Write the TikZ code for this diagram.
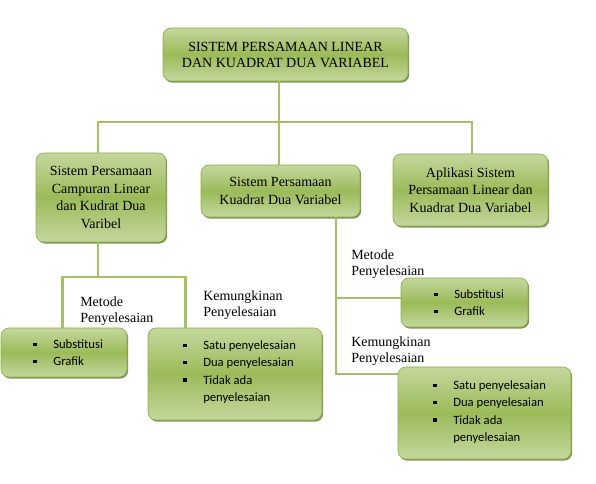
\documentclass[tikz,border=0pt]{standalone}
\usepackage{fontspec}
\setmainfont{Liberation Serif}
\newfontfamily\calfont{Carlito}
\usetikzlibrary{shadows}
\definecolor{olivelight}{HTML}{C4D79E}
\definecolor{olivemid}{HTML}{9BBB59}
\definecolor{oliveedge}{HTML}{8DAD50}
\definecolor{oliveshade}{HTML}{6F8A3C}
\definecolor{linkgreen}{HTML}{A3C065}
\newcommand{\bul}{\makebox[15pt][l]{\rule[1.8pt]{2.5pt}{2.5pt}}}
\tikzset{
  box/.style 2 args={draw=oliveedge, line width=0.5pt, rounded corners=6pt,
    top color=olivelight, bottom color=olivelight, middle color=olivemid,
    drop shadow={shadow xshift=0.9pt, shadow yshift=-1.2pt, fill=oliveshade, opacity=0.9},
    minimum width=#1*0.75pt, minimum height=#2*0.75pt, inner sep=0pt,
    align=center, font=\fontsize{10.5}{13.3}\selectfont},
  link/.style={draw=linkgreen, line width=2.2pt},
  lbl/.style={anchor=north west, inner sep=0pt, align=left, font=\fontsize{10.5}{12}\selectfont},
  lst/.style={anchor=north west, inner sep=0pt, align=left, font=\calfont\fontsize{9.5}{13}\selectfont}
}
\begin{document}
\begin{tikzpicture}[x=0.75pt, y=-0.75pt]
\useasboundingbox (0,0) rectangle (596,484);
\node[box={245}{53}, font=\fontsize{10.5}{12}\selectfont] (sped) at (285.5,54.5) {SISTEM PERSAMAAN LINEAR\\DAN KUADRAT DUA VARIABEL};
\node[box={130}{89}] (spc) at (101,197.5) {Sistem Persamaan\\Campuran Linear\\dan Kudrat Dua\\Varibel};
\node[box={159}{52}] (skd) at (280.5,191) {Sistem Persamaan\\Kuadrat Dua Variabel};
\node[box={155}{72}] (apl) at (470.5,190) {Aplikasi Sistem\\Persamaan Linear dan\\Kuadrat Dua Variabel};
\node[box={126}{49}] (lmet) at (64,352.5) {};
\node[box={174}{92}] (lkem) at (235,374) {};
\node[box={127}{49}] (rmet) at (464.5,302.5) {};
\node[box={173}{92}] (rkem) at (484.5,413) {};
\coordinate (jt) at (279,122);
\coordinate (jl) at (98,277);
\coordinate (jm) at (336,298);
\coordinate (jk) at (336,374);
\draw[link] (jt |- sped.south) -- (jt |- skd.north);
\draw[link] ([xshift=-2.25pt]spc.north) |- (jt) -| ([xshift=1.1pt]apl.north);
\draw[link] (jl |- spc.south) -- (jl);
\draw[link] ([xshift=-1.1pt]lmet.north) |- (jl) -| ([xshift=28.5pt]lkem.north west);
\draw[link] (jm |- skd.south) -- (jk) -- (jk -| rkem.west);
\draw[link] (jm) -- (jm -| rmet.west);
\node[lbl] (lmetlbl) at (80,294.8) {\strut Metode\\\strut Penyelesaian};
\node[lbl] (lkemlbl) at (203,288.8) {\strut Kemungkinan\\\strut Penyelesaian};
\node[lbl] (rmetlbl) at (351,247.8) {\strut Metode\\\strut Penyelesaian};
\node[lbl] (rkemlbl) at (351,334.8) {\strut Kemungkinan\\\strut Penyelesaian};
\node[lst] (lmetlst) at (33,336) {\strut\bul Substitusi\\\strut\bul Grafik};
\node[lst] (lkemlst) at (183,337) {\strut\bul Satu penyelesaian\\\strut\bul Dua penyelesaian\\\strut\bul Tidak ada\\\strut\hspace*{15pt}penyelesaian};
\node[lst] (rmetlst) at (434,286) {\strut\bul Substitusi\\\strut\bul Grafik};
\node[lst] (rkemlst) at (433,377) {\strut\bul Satu penyelesaian\\\strut\bul Dua penyelesaian\\\strut\bul Tidak ada\\\strut\hspace*{15pt}penyelesaian};
\end{tikzpicture}
\end{document}
